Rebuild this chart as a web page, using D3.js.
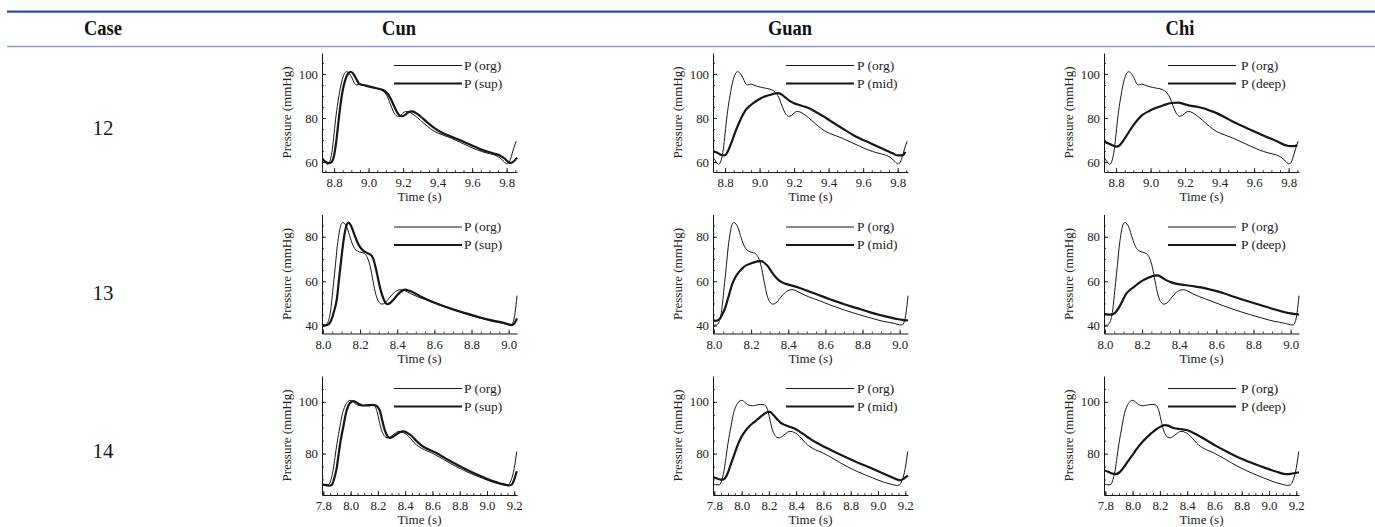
<!DOCTYPE html>
<html><head><meta charset="utf-8">
<script src="https://cdn.jsdelivr.net/npm/d3@7"></script>
<style>html,body{margin:0;padding:0;background:#fff}svg{display:block}</style>
</head><body>
<svg id="c" width="1375" height="527"></svg>
<script>
// ---------------- data ----------------
const headerLabels = ["Case", "Cun", "Guan", "Chi"];
const caseLabels = ["12", "13", "14"];
const orgName = "P (org)";
const layerNames = ["P (sup)", "P (mid)", "P (deep)"];
const xLabel = "Time (s)";
const yLabel = "Pressure (mmHg)";

const xDomains = [[8.73, 9.86], [7.995, 9.045], [7.79, 9.22]];
const yDomains = [[55.5, 109.5], [36.5, 90], [64, 110]];
const xTicks = [[8.8, 9.0, 9.2, 9.4, 9.6, 9.8], [8.0, 8.2, 8.4, 8.6, 8.8, 9.0], [7.8, 8.0, 8.2, 8.4, 8.6, 8.8, 9.0, 9.2]];
const yTicks = [[60, 80, 100], [40, 60, 80], [80, 100]];

// case 12
const org12 = [[8.73,62.3],[8.745,60.5],[8.762,59.0],[8.778,61.0],[8.79,66],[8.80,73],[8.812,81.5],[8.825,88.5],[8.84,95],[8.855,99.3],[8.872,101.0],[8.888,100.2],[8.903,98.3],[8.918,95.8],[8.93,95.0],[8.948,95.4],[8.965,95.0],[8.99,94.3],[9.03,93.6],[9.07,92.8],[9.09,91.8],[9.11,89.5],[9.13,85.5],[9.15,82.0],[9.168,80.8],[9.185,81.2],[9.205,82.6],[9.22,83.0],[9.24,82.5],[9.27,81.0],[9.3,79.0],[9.34,76.3],[9.38,74.0],[9.43,72.3],[9.48,70.8],[9.53,69.0],[9.58,67.2],[9.63,65.5],[9.68,64.2],[9.73,63.2],[9.76,62.0],[9.785,60.2],[9.8,59.2],[9.812,59.6],[9.825,62.0],[9.84,66.0],[9.855,69.5]];
const sup12 = [[8.73,61.5],[8.75,60.2],[8.768,59.5],[8.785,60.0],[8.80,63],[8.812,69],[8.825,78],[8.838,86.5],[8.85,92.5],[8.865,97.3],[8.88,100.0],[8.895,101.0],[8.91,100.2],[8.925,98.3],[8.94,96.0],[8.955,95.2],[8.97,95.0],[9.0,94.4],[9.04,93.6],[9.08,92.8],[9.105,91.5],[9.13,88.5],[9.15,85.0],[9.17,82.0],[9.19,80.8],[9.21,81.3],[9.23,82.6],[9.25,83.0],[9.27,82.5],[9.3,80.8],[9.34,78.0],[9.38,75.5],[9.42,73.5],[9.47,71.8],[9.52,70.2],[9.57,68.5],[9.62,66.8],[9.67,65.2],[9.72,64.0],[9.76,63.0],[9.79,61.5],[9.81,60.0],[9.822,59.6],[9.835,60.0],[9.85,61.0],[9.86,62.0]];
const mid12 = [[8.73,65.0],[8.755,64.2],[8.78,63.2],[8.795,63.0],[8.81,64.0],[8.825,66.5],[8.842,69.9],[8.86,73.8],[8.88,77.6],[8.9,81.0],[8.918,83.5],[8.94,85.3],[8.965,86.9],[8.99,88.2],[9.013,89.2],[9.04,90.0],[9.07,90.7],[9.09,91.2],[9.107,91.3],[9.125,90.8],[9.145,89.6],[9.17,88.0],[9.2,86.7],[9.23,85.9],[9.259,85.2],[9.29,84.3],[9.316,83.2],[9.345,81.9],[9.373,80.6],[9.41,78.7],[9.449,76.8],[9.5,74.3],[9.544,72.2],[9.59,70.4],[9.639,68.7],[9.69,66.9],[9.734,65.3],[9.77,64.0],[9.8,63.0],[9.828,63.0],[9.845,64.6]];
const deep12 = [[8.73,69.3],[8.76,68.3],[8.785,67.4],[8.803,67.0],[8.82,67.6],[8.84,69.5],[8.859,71.8],[8.877,74.0],[8.897,76.3],[8.925,79.2],[8.953,81.4],[8.99,83.1],[9.029,84.5],[9.075,85.8],[9.12,86.8],[9.16,87.0],[9.2,86.2],[9.236,85.5],[9.275,85.0],[9.311,84.3],[9.35,83.2],[9.386,82.1],[9.45,79.5],[9.518,76.8],[9.585,74.5],[9.65,72.2],[9.725,69.7],[9.8,67.3],[9.83,67.2],[9.85,67.6]];

// case 13
const org13 = [[7.995,40.5],[8.01,40.2],[8.025,41.3],[8.04,46],[8.057,58.9],[8.067,67],[8.077,75.5],[8.088,82],[8.098,85.6],[8.108,86.4],[8.118,85.8],[8.13,84],[8.147,79.5],[8.165,75.5],[8.185,73.6],[8.205,73.0],[8.225,72.3],[8.24,70.5],[8.255,66.5],[8.27,60],[8.285,54],[8.3,50.8],[8.318,49.7],[8.335,50.3],[8.36,52.8],[8.385,55.0],[8.41,56.1],[8.425,56.2],[8.445,55.6],[8.47,54.5],[8.51,53.0],[8.56,51.5],[8.63,49.2],[8.704,47.0],[8.78,45.0],[8.847,43.4],[8.91,42.0],[8.973,41.0],[9.0,40.4],[9.012,40.3],[9.025,41.8],[9.035,46],[9.045,53.5]];
const sup13 = [[7.995,40.3],[8.015,40.2],[8.03,40.6],[8.045,42.5],[8.06,46.5],[8.075,52],[8.088,62],[8.102,72.3],[8.115,80.5],[8.128,85.3],[8.138,86.4],[8.15,85.2],[8.165,82],[8.183,78],[8.201,75.2],[8.22,73.5],[8.24,72.6],[8.262,71.5],[8.277,68.5],[8.291,63.5],[8.305,58],[8.32,53.5],[8.335,50.5],[8.348,49.7],[8.362,50.2],[8.381,51.8],[8.405,54.2],[8.425,55.6],[8.443,56.2],[8.465,55.7],[8.49,54.8],[8.52,53.4],[8.56,51.8],[8.63,49.4],[8.704,47.3],[8.78,45.3],[8.847,43.7],[8.91,42.4],[8.973,41.3],[9.0,40.6],[9.018,40.3],[9.032,41.2],[9.045,43.3]];
const mid13 = [[7.995,42.4],[8.01,42.2],[8.027,42.7],[8.045,45],[8.063,48.6],[8.08,53.5],[8.099,58.8],[8.117,62],[8.135,64.2],[8.153,65.8],[8.171,67.0],[8.195,67.9],[8.216,68.5],[8.235,68.9],[8.252,69.0],[8.27,68.4],[8.288,67.0],[8.31,64.3],[8.333,61.8],[8.36,59.8],[8.387,58.8],[8.42,58.0],[8.459,57.1],[8.5,55.8],[8.55,54.3],[8.62,52.0],[8.694,49.9],[8.77,47.9],[8.838,46.1],[8.91,44.5],[8.982,43.1],[9.015,42.6],[9.036,42.4],[9.045,42.6]];
const deep13 = [[7.995,45.3],[8.01,45.1],[8.03,45.0],[8.044,45.2],[8.062,46.5],[8.08,48.8],[8.098,51.8],[8.115,54.4],[8.137,56.2],[8.159,57.6],[8.18,59.0],[8.204,60.4],[8.23,61.5],[8.257,62.3],[8.283,62.6],[8.305,61.8],[8.327,60.6],[8.355,59.6],[8.381,58.9],[8.43,58.3],[8.487,57.6],[8.53,57.0],[8.575,56.1],[8.64,54.6],[8.699,52.9],[8.77,51.0],[8.841,49.2],[8.91,47.4],[8.982,45.8],[9.027,45.2],[9.045,45.0]];

// case 14
const org14 = [[7.79,68.4],[7.81,68.0],[7.835,67.9],[7.85,69.0],[7.862,71.2],[7.873,74],[7.885,78.5],[7.9,84],[7.922,90.6],[7.94,95.5],[7.959,98.4],[7.978,100.0],[7.996,100.6],[8.013,100.3],[8.032,99.4],[8.055,98.7],[8.081,98.5],[8.11,98.8],[8.142,99.0],[8.165,98.9],[8.182,98.0],[8.195,96.0],[8.21,92.5],[8.225,89.3],[8.24,87.4],[8.258,86.3],[8.277,86.1],[8.3,86.8],[8.326,87.8],[8.345,88.5],[8.362,88.6],[8.385,88.2],[8.41,87.4],[8.44,85.8],[8.47,84.0],[8.497,82.8],[8.54,81.5],[8.594,80.3],[8.68,77.8],[8.766,75.2],[8.86,72.8],[8.961,70.6],[9.04,69.0],[9.108,68.0],[9.135,67.7],[9.157,67.9],[9.175,69.5],[9.194,72.8],[9.205,76],[9.218,80.8]];
const sup14 = [[7.79,68.0],[7.82,67.8],[7.845,67.6],[7.862,67.9],[7.875,69.5],[7.887,71.8],[7.898,74.5],[7.91,79],[7.925,84.5],[7.947,90.6],[7.965,95.5],[7.983,98.5],[8.0,99.8],[8.02,100.3],[8.04,99.9],[8.06,99.2],[8.09,98.6],[8.13,98.6],[8.16,98.8],[8.185,98.6],[8.2,97.9],[8.216,96.3],[8.232,92.8],[8.252,88.8],[8.27,86.8],[8.289,86.1],[8.31,86.5],[8.338,87.5],[8.36,88.3],[8.387,88.6],[8.41,88.2],[8.448,86.8],[8.485,84.8],[8.521,83.1],[8.57,81.7],[8.619,80.5],[8.7,78.0],[8.79,75.4],[8.89,72.8],[8.986,70.6],[9.06,69.1],[9.132,68.0],[9.16,67.7],[9.181,68.0],[9.2,70.0],[9.218,73.2]];
const mid14 = [[7.79,70.9],[7.81,70.6],[7.835,70.1],[7.861,69.9],[7.88,70.6],[7.897,72.3],[7.92,75.8],[7.946,79.6],[7.97,83.2],[7.995,86.1],[8.025,88.6],[8.055,90.5],[8.085,91.9],[8.116,93.2],[8.147,94.6],[8.177,95.7],[8.195,96.1],[8.209,96.1],[8.235,94.8],[8.262,93.2],[8.285,92.0],[8.311,91.2],[8.345,90.5],[8.384,89.8],[8.42,88.7],[8.457,87.4],[8.5,85.8],[8.554,84.1],[8.65,81.5],[8.749,79.0],[8.85,76.6],[8.944,74.5],[9.03,72.5],[9.114,70.6],[9.14,70.0],[9.163,69.7],[9.185,70.2],[9.205,71.0],[9.22,71.5]];
const deep14 = [[7.79,73.6],[7.82,73.0],[7.85,72.3],[7.875,72.1],[7.9,72.6],[7.925,74.0],[7.96,76.6],[7.996,79.2],[8.03,81.8],[8.068,84.3],[8.105,86.3],[8.14,88.0],[8.175,89.5],[8.211,90.6],[8.235,91.0],[8.26,90.8],[8.285,90.2],[8.307,89.8],[8.35,89.5],[8.403,89.0],[8.45,87.9],[8.498,86.5],[8.56,84.6],[8.618,82.8],[8.7,80.5],[8.785,78.3],[8.88,76.3],[8.977,74.4],[9.05,73.1],[9.12,72.1],[9.16,72.2],[9.192,72.5],[9.22,72.8]];

const orgSeries = [org12, org13, org14];
const layerSeries = [[sup12, mid12, deep12], [sup13, mid13, deep13], [sup14, mid14, deep14]];

// ---------------- layout ----------------
const svg = d3.select("#c");
const FONT = "'Liberation Serif','Times New Roman',serif";
const plotLefts = [322, 713, 1104];
const plotTops = [53, 214.5, 376];
const PW = 195, PH = 119;
const legStart = [72, 73, 64], legLen = 68, legGap = [2, 3, 5];
const INK = "#161616";

// header rules
svg.append("line").attr("x1", 7).attr("x2", 1375).attr("y1", 11.7).attr("y2", 11.7)
  .attr("stroke", "#2f4f9e").attr("stroke-width", 2.2);
svg.append("line").attr("x1", 7).attr("x2", 1375).attr("y1", 46.5).attr("y2", 46.5)
  .attr("stroke", "#8c9dca").attr("stroke-width", 1.6);

const headerX = [103, 399, 790, 1180];
headerLabels.forEach((h, i) => {
  svg.append("text").attr("transform", `translate(${headerX[i]},35) scale(0.86,1)`)
    .attr("text-anchor", "middle").attr("font-family", FONT).attr("font-weight", "bold")
    .attr("font-size", 21.5).attr("fill", "#111").text(h);
});

const rowLabelY = [134.5, 299.5, 457.5];
caseLabels.forEach((c, i) => {
  svg.append("text").attr("x", 103).attr("y", rowLabelY[i]).attr("text-anchor", "middle")
    .attr("font-family", FONT).attr("font-size", 21).attr("fill", "#1a1a1a").text(c);
});

// ---------------- charts ----------------
const defs = svg.append("defs");
caseLabels.forEach((cl, r) => {
  layerNames.forEach((ln, c) => {
    const L = plotLefts[c], T = plotTops[r];
    const x = d3.scaleLinear().domain(xDomains[r]).range([0, PW]);
    const y = d3.scaleLinear().domain(yDomains[r]).range([PH, 0]);
    const g = svg.append("g").attr("transform", `translate(${L},${T})`);
    const cid = `clip${r}${c}`;
    defs.append("clipPath").attr("id", cid).append("rect")
      .attr("x", 0).attr("y", 0).attr("width", PW + 1).attr("height", PH);

    // minor ticks
    const xd = xDomains[r], yd = yDomains[r];
    const xMinor = d3.range(Math.ceil(xd[0] / 0.05) * 0.05, xd[1], 0.05).map(v => +v.toFixed(3));
    const yMinor = d3.range(Math.ceil(yd[0] / 5) * 5, yd[1], 5);
    const xMinorAxis = d3.axisBottom(x).tickValues(xMinor).tickSize(-2).tickSizeOuter(0).tickFormat("");
    const yMinorAxis = d3.axisLeft(y).tickValues(yMinor).tickSize(-2).tickSizeOuter(0).tickFormat("");
    const gxm = g.append("g").attr("transform", `translate(0,${PH})`).call(xMinorAxis);
    const gym = g.append("g").call(yMinorAxis);
    [gxm, gym].forEach(a => { a.select(".domain").remove(); a.selectAll("line").attr("stroke", INK).attr("stroke-width", 0.8); });

    const xAxis = d3.axisBottom(x).tickValues(xTicks[r]).tickSize(-4).tickSizeOuter(0)
      .tickPadding(6.4).tickFormat(d3.format(".1f"));
    const yAxis = d3.axisLeft(y).tickValues(yTicks[r]).tickSize(-4).tickSizeOuter(0)
      .tickPadding(4).tickFormat(d3.format("d"));
    const gx = g.append("g").attr("transform", `translate(0,${PH})`).call(xAxis);
    const gy = g.append("g").call(yAxis);
    [gx, gy].forEach(a => {
      a.select(".domain").attr("stroke", INK).attr("stroke-width", 1);
      a.selectAll("line").attr("stroke", INK).attr("stroke-width", 0.9);
      a.selectAll("text").attr("font-family", FONT).attr("font-size", 12.8).attr("fill", "#222");
    });

    g.append("text").attr("x", PW / 2).attr("y", PH + 29).attr("text-anchor", "middle")
      .attr("font-family", FONT).attr("font-size", 13).attr("fill", "#222").text(xLabel);
    g.append("text").attr("transform", `translate(-31,${PH / 2}) rotate(-90)`)
      .attr("text-anchor", "middle").attr("font-family", FONT).attr("font-size", 13)
      .attr("fill", "#222").text(yLabel);

    const line = d3.line().x(d => x(d[0])).y(d => y(d[1])).curve(d3.curveMonotoneX);
    const lines = g.append("g").attr("clip-path", `url(#${cid})`);
    lines.append("path").datum(layerSeries[r][c]).attr("d", line)
      .attr("fill", "none").attr("stroke", INK).attr("stroke-width", 2.2).attr("stroke-linejoin", "round");
    lines.append("path").datum(orgSeries[r]).attr("d", line)
      .attr("fill", "none").attr("stroke", INK).attr("stroke-width", 1).attr("stroke-linejoin", "round");

    // legend
    const legItems = [{ name: orgName, w: 1, dy: 12.5 }, { name: ln, w: 2.2, dy: 30.5 }];
    legItems.forEach(it => {
      const x0 = legStart[c], x1 = x0 + legLen;
      g.append("line").attr("x1", x0).attr("x2", x1).attr("y1", it.dy).attr("y2", it.dy)
        .attr("stroke", INK).attr("stroke-width", it.w);
      g.append("text").attr("x", x1 + legGap[c]).attr("y", it.dy).attr("dy", "0.33em")
        .attr("font-family", FONT).attr("font-size", 13.5).attr("fill", "#222").text(it.name);
    });
  });
});
</script>
</body></html>
